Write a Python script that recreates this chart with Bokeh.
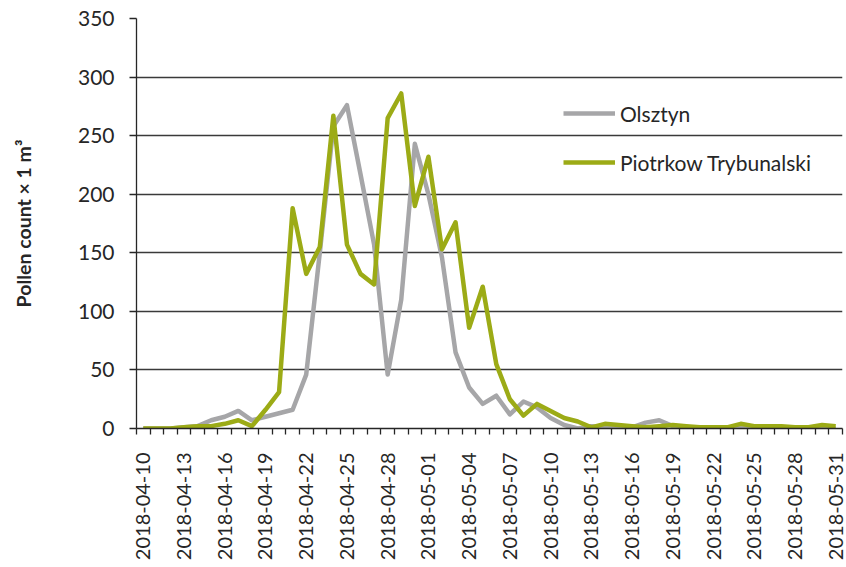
import math
import pandas as pd
from bokeh.plotting import figure
from bokeh.models import (Range1d, FixedTicker, Legend, LegendItem, LinearAxis,
                          ColumnDataSource)
from bokeh.embed import file_html
from bokeh.resources import INLINE

dates = [d.strftime("%Y-%m-%d") for d in pd.date_range("2018-04-10", "2018-05-31", freq="D")]

olsztyn = [0, 0, 0, 1, 2, 7, 10, 15, 7, 10, 13, 16, 46, 150, 258, 276, 217, 157,
           46, 110, 243, 200, 146, 65, 35, 21, 28, 12, 23, 18, 9, 3, 0, 2, 1, 1,
           1, 5, 7, 2, 1, 0, 0, 0, 1, 0, 0, 0, 0, 0, 0, 0]
piotrkow = [0, 0, 0, 1, 2, 2, 4, 7, 2, 16, 31, 188, 132, 155, 267, 157, 132, 123,
            265, 286, 190, 232, 153, 176, 86, 121, 55, 25, 11, 21, 15, 9, 6, 1, 4, 3,
            2, 1, 2, 3, 2, 1, 1, 1, 4, 2, 2, 2, 1, 1, 3, 2]

series_names = ["Olsztyn", "Piotrkow Trybunalski"]
series_colors = ["#A6A6A8", "#9CAB16"]
y_ticks = [0, 50, 100, 150, 200, 250, 300, 350]
label_step = 3
y_title = "Pollen count \u00d7 1 m\u00b3"

FONT = "Lato"
TXT = "#262626"

idx = list(range(len(dates)))
src = ColumnDataSource(dict(x=idx, o=olsztyn, p=piotrkow))

p = figure(width=846, height=567, output_backend="svg", toolbar_location=None,
           x_range=Range1d(-0.5, len(dates) - 0.5), y_range=Range1d(0, 350),
           min_border_left=136, min_border_top=18, min_border_bottom=139,
           min_border_right=4)
p.outline_line_color = None
p.background_fill_color = "white"
p.border_fill_color = "white"

r1 = p.line("x", "o", source=src, line_color=series_colors[0], line_width=4.5,
            line_join="round")
r2 = p.line("x", "p", source=src, line_color=series_colors[1], line_width=4.5,
            line_join="round")

# x axis
xt = idx[::label_step]
p.xaxis.ticker = FixedTicker(ticks=xt, minor_ticks=[i - 0.5 for i in range(len(dates) + 1)])
p.xaxis.major_label_overrides = {i: dates[i] for i in xt}
p.xaxis.major_label_orientation = math.pi / 2
p.xaxis.major_tick_out = 0
p.xaxis.major_tick_in = 0
p.xaxis.minor_tick_out = 6
p.xaxis.minor_tick_in = 0
p.xaxis.minor_tick_line_color = "#262626"
p.xaxis.minor_tick_line_width = 1.3
p.xaxis.major_label_standoff = 18
p.xaxis.major_label_text_font = FONT
p.xaxis.major_label_text_font_size = "20px"
p.xaxis.major_label_text_color = TXT
p.xaxis.axis_line_color = "#262626"
p.xaxis.axis_line_width = 1.3

# y axis
p.yaxis.ticker = FixedTicker(ticks=y_ticks)
p.yaxis.minor_tick_line_color = None
p.yaxis.major_tick_out = 7
p.yaxis.major_tick_in = 0
p.yaxis.major_tick_line_color = "#262626"
p.yaxis.major_tick_line_width = 1.3
p.yaxis.major_label_standoff = 15
p.yaxis.major_label_text_font = FONT
p.yaxis.major_label_text_font_size = "21px"
p.yaxis.major_label_text_color = TXT
p.yaxis.axis_line_color = "#262626"
p.yaxis.axis_line_width = 1.3

p.xgrid.grid_line_color = None
p.ygrid.ticker = FixedTicker(ticks=y_ticks)
p.ygrid.grid_line_color = "#3a3a3a"
p.ygrid.grid_line_width = 1.4

# y title carried by an invisible extra axis, placed away from the tick labels
title_axis = LinearAxis(ticker=FixedTicker(ticks=[]),
                        axis_line_color=None, major_tick_line_color=None,
                        minor_tick_line_color=None, major_label_text_font_size="0px",
                        axis_label=y_title, axis_label_standoff=40,
                        axis_label_text_font=FONT, axis_label_text_font_style="bold",
                        axis_label_text_font_size="19.5px",
                        axis_label_text_color=TXT)
p.add_layout(title_axis, "left")

legend = Legend(items=[LegendItem(label=series_names[0], renderers=[r1]),
                       LegendItem(label=series_names[1], renderers=[r2])],
                location=(427, 253), orientation="vertical",
                glyph_width=52, glyph_height=26, label_height=26, spacing=23,
                padding=0, margin=0, label_standoff=5,
                label_text_font=FONT, label_text_font_size="21px",
                label_text_color=TXT,
                background_fill_alpha=0, border_line_color=None)
p.add_layout(legend)

open("out.html", "w").write(file_html(p, INLINE))
